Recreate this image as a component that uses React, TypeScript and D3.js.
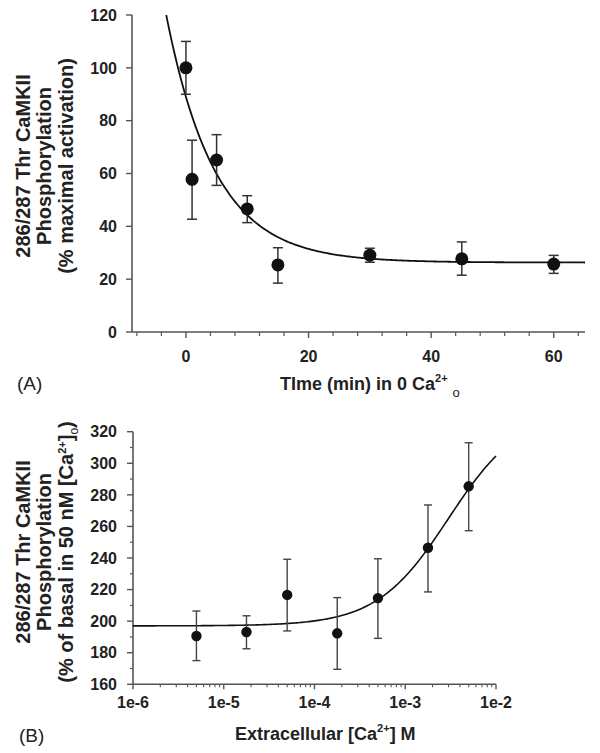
import React from "react";
import * as d3 from "d3";

// ---------- Panel A data ----------
const timeA = [0, 1, 5, 10, 15, 30, 45, 60];
const valueA = [100, 57.8, 65.1, 46.6, 25.4, 29.1, 27.7, 25.7];
const errHiA = [110, 72.6, 74.7, 51.6, 31.9, 31.7, 34.1, 29.0];
const errLoA = [90, 42.7, 55.5, 41.4, 18.5, 26.4, 21.5, 22.2];
const yTicksA = [0, 20, 40, 60, 80, 100, 120];
const xTicksA = [0, 20, 40, 60];
// one-phase exponential decay fit: plateau, span, rate
const fitA = { plateau: 26.3, span: 62.7, k: 0.125 };

// ---------- Panel B data ----------
const concB = [5e-6, 1.78e-5, 5e-5, 1.78e-4, 5e-4, 1.78e-3, 5e-3];
const valueB = [190.6, 193.1, 216.6, 192.3, 214.6, 246.5, 285.4];
const errHiB = [206.4, 203.4, 239.2, 214.9, 239.5, 273.6, 313];
const errLoB = [175, 182.5, 193.8, 169.5, 189.1, 218.5, 257.3];
const yTicksB = [160, 180, 200, 220, 240, 260, 280, 300, 320];
const xTicksB = [1e-6, 1e-5, 1e-4, 1e-3, 1e-2];
const xTickLabelsB = ["1e-6", "1e-5", "1e-4", "1e-3", "1e-2"];
// sigmoidal dose-response fit: bottom, top, EC50, Hill slope
const fitB = { bottom: 197, top: 333.2, ec50: 3e-3, hill: 1.1 };

const FONT = "'Liberation Sans', Arial, Helvetica, sans-serif";
const AXIS = "#555";
const TEXT = "#222";

export default function App() {
  // scales A
  const xA = d3.scaleLinear().domain([-8.8, 65.1]).range([132, 585]);
  const yA = d3.scaleLinear().domain([0, 120]).range([332, 15]);
  // scales B
  const xB = d3.scaleLog().domain([1e-6, 1e-2]).range([133, 496]);
  const yB = d3.scaleLinear().domain([160, 320]).range([684.3, 431.7]);

  const fA = (t: number) => fitA.plateau + fitA.span * Math.exp(-fitA.k * t);
  const tStart = -Math.log((120 - fitA.plateau) / fitA.span) / fitA.k;
  const curveAPts = d3.range(tStart, 65.1, 0.25).concat([65.1]);
  const lineA = d3
    .line<number>()
    .x((t) => xA(t))
    .y((t) => yA(fA(t)));

  const fB = (c: number) =>
    fitB.bottom + (fitB.top - fitB.bottom) / (1 + Math.pow(fitB.ec50 / c, fitB.hill));
  const curveBPts = d3.range(-6, -1.999, 0.02).map((e) => Math.pow(10, e));
  const lineB = d3
    .line<number>()
    .x((c) => xB(c))
    .y((c) => yB(fB(c)));

  const minorA = d3.range(-8, 65, 4).filter((t) => !xTicksA.includes(t));
  const minorYB = d3.range(170, 320, 20);
  const minorXB: number[] = [];
  for (let e = -6; e < -2; e++) {
    for (let m = 2; m <= 9; m++) minorXB.push(m * Math.pow(10, e));
  }

  return (
    <svg
      width={600}
      height={753}
      style={{ position: "absolute", left: 0, top: 0, background: "#fff" }}
      fontFamily={FONT}
    >
      <rect x={0} y={0} width={600} height={753} fill="#fff" />

      {/* ================= Panel A ================= */}
      <g>
        <line x1={xA.range()[0]} x2={xA.range()[0]} y1={yA(0)} y2={yA(120)} stroke={AXIS} strokeWidth={1.6} />
        <line x1={xA.range()[0]} x2={xA.range()[1]} y1={yA(0)} y2={yA(0)} stroke={AXIS} strokeWidth={1.6} />
        {yTicksA.map((v) => (
          <g key={"ya" + v}>
            <line x1={xA.range()[0] - 6} x2={xA.range()[0]} y1={yA(v)} y2={yA(v)} stroke={AXIS} strokeWidth={1.4} />
            <text x={117} y={yA(v)} dy="0.36em" textAnchor="end" fontSize={16} fontWeight="bold" fill={TEXT}>
              {v}
            </text>
          </g>
        ))}
        {minorA.map((t) => (
          <line key={"xam" + t} x1={xA(t)} x2={xA(t)} y1={yA(0)} y2={yA(0) + 4} stroke={AXIS} strokeWidth={1.2} />
        ))}
        {xTicksA.map((t) => (
          <g key={"xa" + t}>
            <line x1={xA(t)} x2={xA(t)} y1={yA(0)} y2={yA(0) + 6} stroke={AXIS} strokeWidth={1.4} />
            <text x={xA(t)} y={362} textAnchor="middle" fontSize={16} fontWeight="bold" fill={TEXT}>
              {t}
            </text>
          </g>
        ))}

        <path d={lineA(curveAPts) || ""} fill="none" stroke="#111" strokeWidth={1.8} />

        {timeA.map((t, i) => (
          <g key={"pa" + i}>
            <line x1={xA(t)} x2={xA(t)} y1={yA(errHiA[i])} y2={yA(errLoA[i])} stroke="#333" strokeWidth={1.5} />
            <line x1={xA(t) - 5} x2={xA(t) + 5} y1={yA(errHiA[i])} y2={yA(errHiA[i])} stroke="#333" strokeWidth={1.5} />
            <line x1={xA(t) - 5} x2={xA(t) + 5} y1={yA(errLoA[i])} y2={yA(errLoA[i])} stroke="#333" strokeWidth={1.5} />
            <circle cx={xA(t)} cy={yA(valueA[i])} r={6.5} fill="#111" />
          </g>
        ))}

        <text transform="translate(0,166) rotate(-90)" textAnchor="middle" fontSize={20} fontWeight="bold" fill={TEXT}>
          <tspan x={0} y={29.5}>286/287 Thr CaMKII</tspan>
          <tspan x={0} y={51}>Phosphorylation</tspan>
          <tspan x={0} y={72.5}>(% maximal activation)</tspan>
        </text>

        <text x={280} y={390} fontSize={18} fontWeight="bold" fill={TEXT}>
          <tspan>TIme (min) in 0 Ca</tspan>
          <tspan dy={-8} fontSize={11}>2+</tspan>
          <tspan dx={5} dy={15} fontSize={13} fontWeight="normal">o</tspan>
        </text>
        <text x={17} y={390} fontSize={19} fill={TEXT}>
          (A)
        </text>
      </g>

      {/* ================= Panel B ================= */}
      <g>
        <line x1={xB.range()[0]} x2={xB.range()[0]} y1={yB(160)} y2={yB(320)} stroke={AXIS} strokeWidth={1.6} />
        <line x1={xB.range()[0]} x2={xB.range()[1]} y1={yB(160)} y2={yB(160)} stroke={AXIS} strokeWidth={1.6} />
        {minorYB.map((v) => (
          <line key={"ybm" + v} x1={xB.range()[0] - 3} x2={xB.range()[0]} y1={yB(v)} y2={yB(v)} stroke={AXIS} strokeWidth={1.2} />
        ))}
        {yTicksB.map((v) => (
          <g key={"yb" + v}>
            <line x1={xB.range()[0] - 6} x2={xB.range()[0]} y1={yB(v)} y2={yB(v)} stroke={AXIS} strokeWidth={1.4} />
            <text x={117} y={yB(v)} dy="0.36em" textAnchor="end" fontSize={16} fontWeight="bold" fill={TEXT}>
              {v}
            </text>
          </g>
        ))}
        {minorXB.map((c, i) => (
          <line key={"xbm" + i} x1={xB(c)} x2={xB(c)} y1={yB(160)} y2={yB(160) + 3} stroke={AXIS} strokeWidth={1.1} />
        ))}
        {xTicksB.map((c, i) => (
          <g key={"xb" + i}>
            <line x1={xB(c)} x2={xB(c)} y1={yB(160)} y2={yB(160) + 5} stroke={AXIS} strokeWidth={1.4} />
            <text x={xB(c)} y={708} textAnchor="middle" fontSize={16} fontWeight="bold" fill={TEXT}>
              {xTickLabelsB[i]}
            </text>
          </g>
        ))}

        <path d={lineB(curveBPts) || ""} fill="none" stroke="#111" strokeWidth={1.6} />

        {concB.map((c, i) => (
          <g key={"pb" + i}>
            <line x1={xB(c)} x2={xB(c)} y1={yB(errHiB[i])} y2={yB(errLoB[i])} stroke="#444" strokeWidth={1.4} />
            <line x1={xB(c) - 4} x2={xB(c) + 4} y1={yB(errHiB[i])} y2={yB(errHiB[i])} stroke="#444" strokeWidth={1.4} />
            <line x1={xB(c) - 4} x2={xB(c) + 4} y1={yB(errLoB[i])} y2={yB(errLoB[i])} stroke="#444" strokeWidth={1.4} />
            <circle cx={xB(c)} cy={yB(valueB[i])} r={5.2} fill="#111" />
          </g>
        ))}

        <text transform="translate(0,552) rotate(-90)" textAnchor="middle" fontSize={20} fontWeight="bold" fill={TEXT}>
          <tspan x={0} y={29.5}>286/287 Thr CaMKII</tspan>
          <tspan x={0} y={51}>Phosphorylation</tspan>
          <tspan x={0} y={72.5}>
            (% of basal in 50 nM [Ca
            <tspan dy={-7} fontSize={11}>2+</tspan>
            <tspan dy={7}>]</tspan>
            <tspan dy={5} fontSize={12} fontWeight="normal">o</tspan>
            <tspan dy={-5}>)</tspan>
          </tspan>
        </text>

        <text x={235} y={740} fontSize={18} fontWeight="bold" fill={TEXT}>
          <tspan>Extracellular [Ca</tspan>
          <tspan dy={-8} fontSize={11}>2+</tspan>
          <tspan dy={8}>] M</tspan>
        </text>
        <text x={19} y={742} fontSize={19} fill={TEXT}>
          (B)
        </text>
      </g>
    </svg>
  );
}
